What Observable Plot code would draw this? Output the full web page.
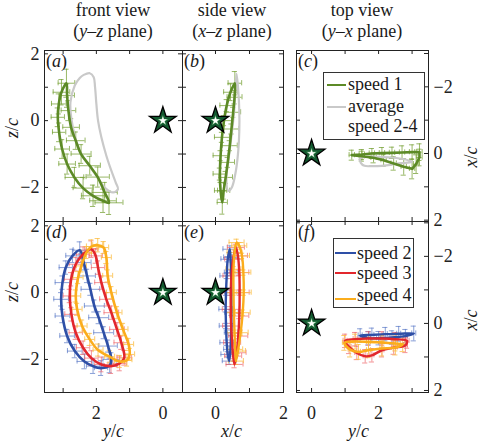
<!DOCTYPE html>
<html><head><meta charset="utf-8">
<script src="https://cdn.jsdelivr.net/npm/d3@7"></script>
<script src="https://cdn.jsdelivr.net/npm/@observablehq/plot@0.6"></script>
<style>
body{margin:0;background:#fff;}
#fig{position:relative;width:480px;height:442px;font-family:"Liberation Serif","Times New Roman",Times,"DejaVu Serif",serif;font-size:18px;color:#1a1a1a;overflow:hidden;}
#fig svg{position:absolute;left:0;top:0;overflow:visible;background:transparent;}
.t{position:absolute;white-space:nowrap;line-height:21px;text-align:center;}
.lab{position:absolute;white-space:nowrap;line-height:1;}
.rot{transform:translate(-50%,-50%) rotate(-90deg);}
.leg{position:absolute;border:1px solid #333;background:#fff;box-sizing:border-box;}
.leg span{position:absolute;white-space:nowrap;line-height:1;}
.leg i.ln{position:absolute;height:2px;display:block;}
</style></head>
<body><div id="fig"></div>
<script>
const FONT = '"Liberation Serif","Times New Roman",Times,"DejaVu Serif",serif';

// ---------- Panel (a): front view, speed 1 (y/c, z/c) ----------
const aGreenY  = [2.90, 3.05, 3.13, 3.16, 3.12, 3.03, 2.88, 2.66, 2.40, 2.10, 1.80, 1.62, 1.75, 1.96, 2.20, 2.46, 2.62, 2.76, 2.84, 2.88];
const aGreenZ  = [1.12, 0.85, 0.50, 0.10, -0.35, -0.85, -1.30, -1.70, -2.02, -2.25, -2.40, -2.46, -2.15, -1.69, -1.35, -1.00, -0.60, -0.20, 0.30, 0.75];
const aGreenEY = [0.25, 0.25, 0.22, 0.20, 0.20, 0.22, 0.25, 0.28, 0.30, 0.35, 0.40, 0.42, 0.38, 0.35, 0.32, 0.30, 0.28, 0.25, 0.22, 0.22];
const aGreenEZ = [0.42, 0.38, 0.30, 0.28, 0.28, 0.28, 0.30, 0.30, 0.32, 0.32, 0.35, 0.35, 0.30, 0.30, 0.28, 0.28, 0.26, 0.26, 0.30, 0.35];
const aAvgY = [2.38, 2.20, 2.08, 2.04, 2.00, 1.95, 1.85, 1.70, 1.55, 1.42, 1.35, 1.50, 1.75, 2.00, 2.25, 2.50, 2.65, 2.75, 2.78, 2.65, 2.50];
const aAvgZ = [1.37, 1.42, 1.30, 1.00, 0.50, 0.00, -0.50, -1.05, -1.50, -1.85, -2.05, -2.15, -2.00, -1.65, -1.30, -0.90, -0.45, 0.05, 0.55, 1.05, 1.28];

// ---------- Panel (b): side view, speed 1 (x/c, z/c) ----------
const bGreenX  = [0.57, 0.56, 0.52, 0.47, 0.42, 0.36, 0.30, 0.24, 0.20, 0.15, 0.13, 0.15, 0.19, 0.25, 0.33, 0.44];
const bGreenZ  = [1.12, 0.70, 0.25, -0.25, -0.75, -1.25, -1.70, -2.10, -2.45, -2.10, -1.60, -1.05, -0.50, 0.00, 0.45, 0.85];
const bGreenEX = [0.20, 0.22, 0.22, 0.22, 0.22, 0.20, 0.20, 0.18, 0.15, 0.18, 0.20, 0.22, 0.22, 0.22, 0.20, 0.20];
const bGreenEZ = [0.35, 0.20, 0.15, 0.15, 0.15, 0.15, 0.18, 0.25, 0.35, 0.25, 0.18, 0.15, 0.15, 0.15, 0.18, 0.25];
const bAvgX = [0.62, 0.67, 0.70, 0.70, 0.67, 0.60, 0.48, 0.38, 0.32, 0.38, 0.44, 0.50, 0.55, 0.58];
const bAvgZ = [1.40, 0.90, 0.30, -0.30, -0.90, -1.50, -2.00, -2.10, -1.70, -1.20, -0.70, -0.20, 0.30, 0.80];

// ---------- Panel (c): top view, speed 1 (y/c, x/c) ----------
const cGreenY  = [1.20, 1.50, 1.80, 2.10, 2.40, 2.70, 3.00, 3.22, 3.22, 3.12, 3.00, 2.75, 2.45, 2.15, 1.85, 1.50];
const cGreenX  = [0.05, 0.03, 0.00, -0.01, -0.02, -0.03, -0.04, -0.04, 0.12, 0.32, 0.46, 0.40, 0.30, 0.20, 0.13, 0.08];
const cGreenEY = [0.08, 0.08, 0.08, 0.08, 0.08, 0.08, 0.08, 0.08, 0.08, 0.08, 0.08, 0.08, 0.08, 0.08, 0.08, 0.08];
const cGreenEX = [0.15, 0.15, 0.15, 0.17, 0.17, 0.20, 0.22, 0.25, 0.25, 0.28, 0.30, 0.25, 0.20, 0.18, 0.15, 0.15];
const cAvgY = [1.45, 1.47, 1.58, 1.80, 2.10, 2.35, 2.55, 2.80, 3.00, 2.80, 2.40, 2.00, 1.70];
const cAvgX = [0.15, 0.28, 0.37, 0.38, 0.37, 0.34, 0.30, 0.28, 0.25, 0.18, 0.12, 0.10, 0.10];

// ---------- Panel (d): front view, speeds 2-4 ----------
const dBlueY  = [2.50, 2.72, 2.92, 3.02, 3.06, 3.02, 2.88, 2.65, 2.36, 2.10, 1.86, 1.60, 1.55, 1.65, 1.78, 1.93, 2.06, 2.18, 2.28, 2.38];
const dBlueZ  = [1.27, 1.10, 0.75, 0.30, -0.20, -0.70, -1.30, -1.75, -2.06, -2.20, -2.26, -2.18, -2.00, -1.60, -1.20, -0.75, -0.40, 0.10, 0.50, 0.90];
const dBlueEY = [0.20, 0.20, 0.20, 0.22, 0.22, 0.22, 0.22, 0.22, 0.22, 0.20, 0.20, 0.20, 0.25, 0.28, 0.30, 0.30, 0.30, 0.28, 0.25, 0.22];
const dBlueEZ = [0.25, 0.20, 0.20, 0.20, 0.20, 0.20, 0.20, 0.20, 0.22, 0.22, 0.22, 0.22, 0.20, 0.18, 0.18, 0.18, 0.18, 0.18, 0.20, 0.22];
const dRedY  = [2.15, 2.40, 2.62, 2.76, 2.80, 2.75, 2.62, 2.40, 2.15, 1.85, 1.56, 1.30, 1.16, 1.25, 1.38, 1.55, 1.70, 1.85, 1.95, 2.02];
const dRedZ  = [1.30, 1.15, 0.85, 0.40, -0.10, -0.65, -1.20, -1.65, -1.96, -2.15, -2.20, -2.12, -1.95, -1.50, -1.10, -0.60, -0.20, 0.30, 0.75, 1.10];
const dRedEY = [0.20, 0.20, 0.20, 0.20, 0.20, 0.20, 0.20, 0.20, 0.20, 0.20, 0.20, 0.20, 0.22, 0.22, 0.22, 0.22, 0.20, 0.20, 0.20, 0.20];
const dRedEZ = [0.25, 0.22, 0.20, 0.20, 0.20, 0.20, 0.20, 0.20, 0.22, 0.22, 0.22, 0.22, 0.22, 0.20, 0.20, 0.20, 0.20, 0.20, 0.20, 0.22];
const dOrY  = [1.96, 1.78, 1.70, 1.66, 1.55, 1.38, 1.20, 1.03, 1.00, 1.08, 1.30, 1.60, 1.95, 2.20, 2.43, 2.58, 2.62, 2.55, 2.45, 2.30, 2.15];
const dOrZ  = [1.42, 1.35, 1.05, 0.50, 0.00, -0.60, -1.10, -1.55, -1.85, -2.02, -2.06, -1.92, -1.72, -1.40, -1.00, -0.50, -0.10, 0.45, 0.80, 1.20, 1.38];
const dOrEY = [0.15, 0.15, 0.15, 0.15, 0.15, 0.15, 0.15, 0.15, 0.15, 0.15, 0.15, 0.15, 0.15, 0.15, 0.15, 0.15, 0.15, 0.15, 0.15, 0.15, 0.15];
const dOrEZ = [0.20, 0.18, 0.18, 0.18, 0.18, 0.18, 0.18, 0.18, 0.18, 0.18, 0.18, 0.18, 0.18, 0.18, 0.18, 0.18, 0.18, 0.18, 0.18, 0.18, 0.20];

// ---------- Panel (e): side view, speeds 2-4 (x/c, z/c) ----------
const eBlueX  = [0.42, 0.36, 0.33, 0.31, 0.30, 0.31, 0.33, 0.36, 0.40, 0.44, 0.46, 0.47, 0.47, 0.46, 0.44];
const eBlueZ  = [1.30, 1.00, 0.50, 0.00, -0.50, -1.00, -1.50, -1.85, -2.05, -1.70, -1.20, -0.60, 0.00, 0.60, 1.05];
const eBlueEX = [0.20, 0.20, 0.20, 0.20, 0.20, 0.20, 0.20, 0.20, 0.20, 0.20, 0.20, 0.20, 0.20, 0.20, 0.20];
const eBlueEZ = [0.10, 0.08, 0.08, 0.08, 0.08, 0.08, 0.08, 0.08, 0.10, 0.08, 0.08, 0.08, 0.08, 0.08, 0.08];
const eRedX  = [0.60, 0.52, 0.47, 0.45, 0.45, 0.46, 0.49, 0.52, 0.56, 0.62, 0.67, 0.70, 0.71, 0.70, 0.66];
const eRedZ  = [1.35, 1.00, 0.50, 0.00, -0.50, -1.00, -1.50, -1.90, -2.15, -1.80, -1.30, -0.70, 0.00, 0.60, 1.10];
const eRedEX = [0.25, 0.25, 0.25, 0.25, 0.25, 0.25, 0.25, 0.25, 0.25, 0.28, 0.28, 0.28, 0.28, 0.28, 0.28];
const eRedEZ = [0.10, 0.08, 0.08, 0.08, 0.08, 0.08, 0.08, 0.08, 0.10, 0.08, 0.08, 0.08, 0.08, 0.08, 0.08];
const eOrX  = [0.62, 0.56, 0.53, 0.53, 0.54, 0.56, 0.58, 0.60, 0.66, 0.74, 0.80, 0.83, 0.82, 0.78, 0.70];
const eOrZ  = [1.50, 1.20, 0.70, 0.00, -0.60, -1.20, -1.70, -2.05, -1.75, -1.20, -0.60, 0.00, 0.60, 1.10, 1.40];
const eOrEX = [0.22, 0.22, 0.22, 0.22, 0.22, 0.22, 0.22, 0.22, 0.22, 0.22, 0.22, 0.22, 0.22, 0.22, 0.22];
const eOrEZ = [0.10, 0.08, 0.08, 0.08, 0.08, 0.08, 0.08, 0.10, 0.08, 0.08, 0.08, 0.08, 0.08, 0.08, 0.10];

// ---------- Panel (f): top view, speeds 2-4 (y/c, x/c) ----------
const fBlueY  = [1.45, 1.80, 2.20, 2.60, 3.05, 2.80, 2.40, 2.00, 1.70];
const fBlueX  = [0.36, 0.34, 0.32, 0.31, 0.30, 0.38, 0.42, 0.44, 0.44];
const fBlueEY = [0.06, 0.06, 0.06, 0.06, 0.06, 0.06, 0.06, 0.06, 0.06];
const fBlueEX = [0.20, 0.20, 0.20, 0.22, 0.22, 0.20, 0.20, 0.20, 0.20];
const fRedY  = [1.00, 1.30, 1.70, 2.10, 2.50, 2.85, 2.80, 2.45, 2.10, 1.80, 1.60, 1.35, 1.12];
const fRedX  = [0.52, 0.47, 0.45, 0.45, 0.47, 0.52, 0.65, 0.72, 0.80, 0.95, 0.98, 0.88, 0.70];
const fRedEY = [0.06, 0.06, 0.06, 0.06, 0.06, 0.06, 0.06, 0.06, 0.06, 0.06, 0.06, 0.06, 0.06];
const fRedEX = [0.20, 0.20, 0.20, 0.20, 0.20, 0.22, 0.22, 0.20, 0.20, 0.20, 0.20, 0.20, 0.20];
const fOrY  = [0.98, 1.30, 1.70, 2.10, 2.50, 2.72, 2.50, 2.10, 1.70, 1.40, 1.15];
const fOrX  = [0.58, 0.54, 0.55, 0.57, 0.60, 0.62, 0.72, 0.75, 0.80, 0.85, 0.78];
const fOrEY = [0.06, 0.06, 0.06, 0.06, 0.06, 0.06, 0.06, 0.06, 0.06, 0.06, 0.06];
const fOrEX = [0.22, 0.22, 0.22, 0.22, 0.22, 0.22, 0.22, 0.22, 0.22, 0.22, 0.22];

// star (origin) and axis ticks
const starH = [0], starV = [0];
const ticksFrontH = [3, 2, 1, 0], labelsFrontH = [2, 0];
const ticksSideH = [0, 1], labelsSideH = [0, 2];
const ticksTopH = [0, 1, 2, 3], labelsTopH = [0, 2];
const ticksZ = [2, 1, 0, -1, -2], labelsZ = [2, 0, -2];
const ticksXV = [-3, -2, -1, 0, 1, 2], labelsXV = [-2, 0, 2];

// legends
const legC = ["speed 1", "average", "speed 2-4"];
const legF = ["speed 2", "speed 3", "speed 4"];

// colours
const GREEN = "#5c8a26", GREEN_E = "#76a034", GRAY = "#c9c9c9";
const BLUE = "#2e4fa6", BLUE_E = "#5877c6", RED = "#e2272d", RED_E = "#ee5a60", ORANGE = "#fbad1c", ORANGE_E = "#fbbd44";
const INK = "#222";

const fmt = d => d < 0 ? "\u2212" + (-d) : String(d);
const pts = (h, v, eh, ev) => h.map((x, i) => ({x, y: v[i], ex: eh ? eh[i] : 0, ey: ev ? ev[i] : 0}));

function panel(cfg) {
  const {L, R, T, B, xd, yd} = cfg;
  const kx = (R - L) / Math.abs(xd[1] - xd[0]);
  const ky = (B - T) / Math.abs(yd[1] - yd[0]);
  const sx = Math.sign(xd[1] - xd[0]), sy = Math.sign(yd[1] - yd[0]);
  const tl = 4;
  const tx = sx * tl / kx, ty = sy * tl / ky;
  const capX = 2.6 / kx, capY = 2.6 / ky;
  const marks = [];
  for (const s of cfg.series) {
    if (!s.err) continue;
    const o = {stroke: s.ecolor, strokeOpacity: s.eop, strokeWidth: 1};
    const d = s.data;
    marks.push(
      Plot.ruleY(d, {y: "y", x1: p => p.x - p.ex, x2: p => p.x + p.ex, ...o}),
      Plot.ruleX(d, {x: "x", y1: p => p.y - p.ey, y2: p => p.y + p.ey, ...o}),
      Plot.ruleX(d, {x: p => p.x - p.ex, y1: p => p.y - capY, y2: p => p.y + capY, ...o}),
      Plot.ruleX(d, {x: p => p.x + p.ex, y1: p => p.y - capY, y2: p => p.y + capY, ...o}),
      Plot.ruleY(d, {y: p => p.y - p.ey, x1: p => p.x - capX, x2: p => p.x + capX, ...o}),
      Plot.ruleY(d, {y: p => p.y + p.ey, x1: p => p.x - capX, x2: p => p.x + capX, ...o})
    );
  }
  for (const s of cfg.series) {
    marks.push(Plot.line(s.data, {x: "x", y: "y", stroke: s.color, strokeWidth: s.w, curve: s.curve || "catmull-rom-closed"}));
  }
  const star = starH.map((h, i) => ({x: h, y: starV[i]}));
  marks.push(Plot.dot(star, {x: "x", y: "y", symbol: "star", r: 8.4, fill: "#12592f", stroke: "#000", strokeWidth: 1.3}));
  marks.push(Plot.dot(star, {x: "x", y: "y", symbol: "star", r: 3.4, fill: "#6fb37c"}));
  marks.push(Plot.dot(star, {x: "x", y: "y", symbol: "star", r: 2.5, fill: "#fff"}));
  marks.push(Plot.frame({stroke: INK, strokeWidth: 1}));
  const ts = {stroke: INK, strokeWidth: 1};
  marks.push(Plot.ruleX(cfg.xt, {x: d => d, y1: () => yd[0], y2: () => yd[0] + ty, ...ts}));
  marks.push(Plot.ruleX(cfg.xt, {x: d => d, y1: () => yd[1], y2: () => yd[1] - ty, ...ts}));
  marks.push(Plot.ruleY(cfg.yt, {y: d => d, x1: () => xd[0], x2: () => xd[0] + tx, ...ts}));
  marks.push(Plot.ruleY(cfg.yt, {y: d => d, x1: () => xd[1], x2: () => xd[1] - tx, ...ts}));
  const af = {tickSize: 0, fontSize: 18, fontFamily: FONT, tickFormat: fmt, label: null, fill: INK};
  if (cfg.xl) marks.push(Plot.axisX(cfg.xl, {anchor: "bottom", tickPadding: 14, ...af}));
  if (cfg.yl) marks.push(Plot.axisY(cfg.yl, {anchor: cfg.yAnchor, tickPadding: 5, ...af}));
  return Plot.plot({
    width: 480, height: 442,
    marginLeft: L, marginRight: 480 - R, marginTop: T, marginBottom: 442 - B,
    x: {domain: xd, axis: null}, y: {domain: yd, axis: null},
    style: {fontFamily: FONT},
    marks
  });
}

const fig = document.getElementById("fig");
const FR = [44, 182], SD = [182, 283], TP = [296, 428];
const R1 = [50, 221], R2 = [221, 392];
const g = (data, color, ecolor, eop, w, curve) => ({data, color, ecolor, eop, err: !!ecolor, w, curve});

fig.append(panel({L: FR[0], R: FR[1], T: R1[0], B: R1[1], xd: [3.56, -0.59], yd: [-3.02, 2.10],
  xt: ticksFrontH, yt: ticksZ, yl: labelsZ, yAnchor: "left",
  series: [g(pts(aAvgY, aAvgZ), GRAY, null, 0, 2.2), g(pts(aGreenY, aGreenZ, aGreenEY, aGreenEZ), GREEN, GREEN_E, 0.75, 2.6)]}));
fig.append(panel({L: SD[0], R: SD[1], T: R1[0], B: R1[1], xd: [-0.97, 2.0], yd: [-3.02, 2.10],
  xt: ticksSideH, yt: ticksZ,
  series: [g(pts(bAvgX, bAvgZ), GRAY, null, 0, 2.2), g(pts(bGreenX, bGreenZ, bGreenEX, bGreenEZ), GREEN, GREEN_E, 0.75, 2.6)]}));
fig.append(panel({L: TP[0], R: TP[1], T: R1[0], B: R1[1], xd: [-0.45, 3.49], yd: [2.04, -3.09],
  xt: ticksTopH, yt: ticksXV, yl: labelsXV, yAnchor: "right",
  series: [g(pts(cAvgY, cAvgX), GRAY, null, 0, 2.2), g(pts(cGreenY, cGreenX, cGreenEY, cGreenEX), GREEN, GREEN_E, 0.75, 2.6, "linear-closed")]}));
fig.append(panel({L: FR[0], R: FR[1], T: R2[0], B: R2[1], xd: [3.56, -0.59], yd: [-2.99, 2.13],
  xt: ticksFrontH, yt: ticksZ, yl: labelsZ, yAnchor: "left", xl: labelsFrontH,
  series: [g(pts(dBlueY, dBlueZ, dBlueEY, dBlueEZ), BLUE, BLUE_E, 0.7, 2.6),
           g(pts(dRedY, dRedZ, dRedEY, dRedEZ), RED, RED_E, 0.65, 2.6),
           g(pts(dOrY, dOrZ, dOrEY, dOrEZ), ORANGE, ORANGE_E, 0.8, 2.6)]}));
fig.append(panel({L: SD[0], R: SD[1], T: R2[0], B: R2[1], xd: [-0.97, 2.0], yd: [-2.99, 2.13],
  xt: ticksSideH, yt: ticksZ, xl: labelsSideH,
  series: [g(pts(eBlueX, eBlueZ, eBlueEX, eBlueEZ), BLUE, BLUE_E, 0.7, 2.4),
           g(pts(eRedX, eRedZ, eRedEX, eRedEZ), RED, RED_E, 0.65, 2.4),
           g(pts(eOrX, eOrZ, eOrEX, eOrEZ), ORANGE, ORANGE_E, 0.8, 2.4)]}));
fig.append(panel({L: TP[0], R: TP[1], T: R2[0], B: R2[1], xd: [-0.45, 3.49], yd: [2.06, -3.04],
  xt: ticksTopH, yt: ticksXV, yl: labelsXV, yAnchor: "right", xl: labelsTopH,
  series: [g(pts(fBlueY, fBlueX, fBlueEY, fBlueEX), BLUE, BLUE_E, 0.7, 2.4),
           g(pts(fRedY, fRedX, fRedEY, fRedEX), RED, RED_E, 0.65, 2.4),
           g(pts(fOrY, fOrX, fOrEY, fOrEX), ORANGE, ORANGE_E, 0.8, 2.6)]}));

function add(html, cls, style) {
  const el = document.createElement("div");
  el.className = cls; el.innerHTML = html; Object.assign(el.style, style); fig.append(el); return el;
}
add("front view<br>(<i>y</i>–<i>z</i> plane)", "t", {left: "48px", top: "0px", width: "130px"});
add("side view<br>(<i>x</i>–<i>z</i> plane)", "t", {left: "167px", top: "0px", width: "130px"});
add("top view<br>(<i>y</i>–<i>x</i> plane)", "t", {left: "297px", top: "0px", width: "130px"});
add("<i>z</i>/<i>c</i>", "lab rot", {left: "12px", top: "128px"});
add("<i>z</i>/<i>c</i>", "lab rot", {left: "12px", top: "292px"});
add("<i>x</i>/<i>c</i>", "lab rot", {left: "471px", top: "157px"});
add("<i>x</i>/<i>c</i>", "lab rot", {left: "471px", top: "320px"});
add("<i>y</i>/<i>c</i>", "lab", {left: "103px", top: "422px"});
add("<i>x</i>/<i>c</i>", "lab", {left: "221px", top: "422px"});
add("<i>y</i>/<i>c</i>", "lab", {left: "348px", top: "422px"});
[["a", 46, 52], ["b", 184, 52], ["c", 298, 52], ["d", 46, 223], ["e", 184, 223], ["f", 298, 223]]
  .forEach(([l, x, y]) => add(`(<i>${l}</i>)`, "lab", {left: x + "px", top: y + "px"}));

function legend(labels, colors, box, rows, lineRows) {
  const el = add("", "leg", {left: box[0] + "px", top: box[1] + "px", width: box[2] + "px", height: box[3] + "px"});
  labels.forEach((t, i) => {
    if (colors[i]) {
      const ln = document.createElement("i"); ln.className = "ln";
      Object.assign(ln.style, {left: box[4] + "px", width: box[5] + "px", top: lineRows[i] + "px", background: colors[i]});
      el.append(ln);
    }
    const s = document.createElement("span"); s.textContent = t;
    Object.assign(s.style, {left: box[6] + "px", top: rows[i] + "px"});
    el.append(s);
  });
}
legend(legC, [GREEN, GRAY, null], [323, 72, 102, 68, 3, 19, 24], [2, 24, 44], [11, 33, 0]);
legend(legF, [BLUE, RED, ORANGE], [333, 238, 81, 70, 1, 21, 23], [5, 25, 47], [13, 33, 59]);
</script>
</body></html>
